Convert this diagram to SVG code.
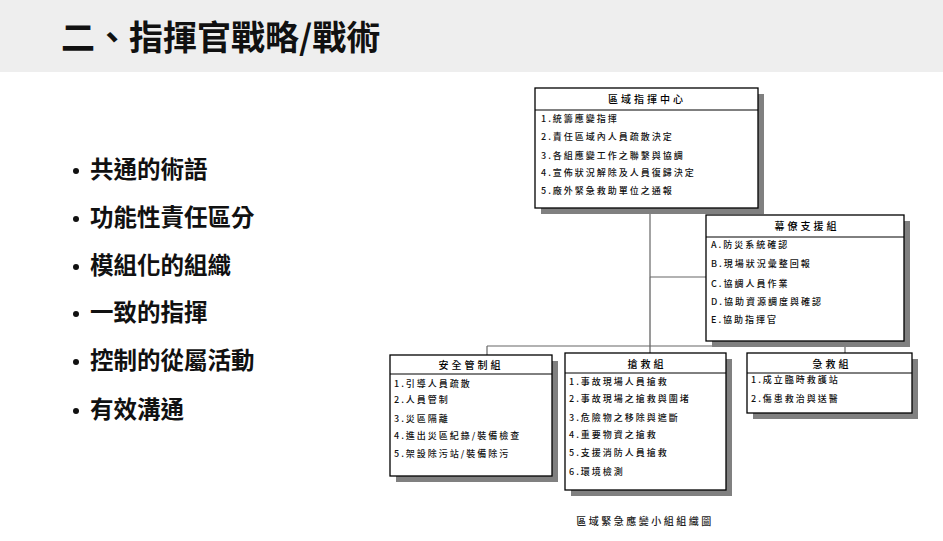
<svg xmlns="http://www.w3.org/2000/svg" width="943" height="541" viewBox="0 0 943 541">
<style>
.cjk{font-family:"Noto Sans CJK TC","Noto Sans CJK SC",sans-serif}
.title{font-size:34px;font-weight:700;fill:#111}
.bul{font-size:23.5px;font-weight:700;fill:#111}
.hd{font-size:10px;letter-spacing:3px;fill:#000;text-anchor:middle;font-weight:500}
.it{font-size:9px;letter-spacing:2px;fill:#111;font-weight:500}
.box{fill:#fff;stroke:#000;stroke-width:1.3}
.sh{fill:#808080}
.div{stroke:#000;stroke-width:1}
.cn{stroke:#666;stroke-width:1.2;fill:none}
.cap{font-size:10px;letter-spacing:2.5px;fill:#222;text-anchor:middle;font-weight:500}
</style>
<rect x="0" y="0" width="943" height="72" fill="#eeeeee"/>
<text class="cjk title" x="61" y="50">二、指揮官戰略/戰術</text>
<g id="bullets" class="cjk bul">
<circle cx="76" cy="171" r="3" fill="#111"/><text x="90" y="178">共通的術語</text>
<circle cx="76" cy="219" r="3" fill="#111"/><text x="90" y="226">功能性責任區分</text>
<circle cx="76" cy="267" r="3" fill="#111"/><text x="90" y="274">模組化的組織</text>
<circle cx="76" cy="314" r="3" fill="#111"/><text x="90" y="321">一致的指揮</text>
<circle cx="76" cy="362" r="3" fill="#111"/><text x="90" y="369">控制的從屬活動</text>
<circle cx="76" cy="411" r="3" fill="#111"/><text x="90" y="418">有效溝通</text>
</g>
<g id="connectors">
<line class="cn" x1="650" y1="208" x2="650" y2="277" stroke="#555"/>
<line x1="650" y1="277" x2="650" y2="353" stroke="#9a9a9a" stroke-width="2"/>
<line class="cn" x1="650" y1="277" x2="706" y2="277"/>
<line class="cn" x1="487" y1="346" x2="845" y2="346"/>
<line class="cn" x1="487" y1="346" x2="487" y2="355"/>
<line class="cn" x1="845" y1="346" x2="845" y2="353"/>
</g>
<g id="command" class="cjk">
<rect class="sh" x="541" y="94" width="223" height="120"/>
<rect class="box" x="535" y="88" width="223" height="120"/>
<line class="div" x1="535" y1="110" x2="758" y2="110"/>
<text class="hd" x="647" y="103">區域指揮中心</text>
<text class="it" x="541" y="122">1.統籌應變指揮</text>
<text class="it" x="541" y="140">2.責任區域內人員疏散決定</text>
<text class="it" x="541" y="159">3.各組應變工作之聯繫與協調</text>
<text class="it" x="541" y="176">4.宣佈狀況解除及人員復歸決定</text>
<text class="it" x="541" y="194">5.廠外緊急救助單位之通報</text>
</g>
<g id="staff" class="cjk">
<rect class="sh" x="712" y="221" width="198" height="126"/>
<rect class="box" x="706" y="215" width="198" height="126"/>
<line class="div" x1="706" y1="237" x2="904" y2="237"/>
<text class="hd" x="807" y="230">幕僚支援組</text>
<text class="it" x="711" y="248">A.防災系統確認</text>
<text class="it" x="711" y="267">B.現場狀況彙整回報</text>
<text class="it" x="711" y="287">C.協調人員作業</text>
<text class="it" x="711" y="305">D.協助資源調度與確認</text>
<text class="it" x="711" y="323">E.協助指揮官</text>
</g>
<g id="safety" class="cjk">
<rect class="sh" x="396" y="361" width="162" height="121"/>
<rect class="box" x="390" y="355" width="162" height="121"/>
<line class="div" x1="390" y1="374" x2="552" y2="374"/>
<text class="hd" x="471" y="369">安全管制組</text>
<text class="it" x="394" y="387">1.引導人員疏散</text>
<text class="it" x="394" y="403">2.人員管制</text>
<text class="it" x="394" y="422">3.災區隔離</text>
<text class="it" x="394" y="439">4.進出災區紀錄/裝備檢查</text>
<text class="it" x="394" y="457">5.架設除污站/裝備除污</text>
</g>
<g id="rescue" class="cjk">
<rect class="sh" x="571" y="359" width="161" height="137"/>
<rect class="box" x="565" y="353" width="161" height="137"/>
<line class="div" x1="565" y1="373" x2="726" y2="373"/>
<text class="hd" x="647" y="368">搶救組</text>
<text class="it" x="569" y="385">1.事故現場人員搶救</text>
<text class="it" x="569" y="402">2.事故現場之搶救與圍堵</text>
<text class="it" x="569" y="421">3.危險物之移除與遮斷</text>
<text class="it" x="569" y="438">4.重要物資之搶救</text>
<text class="it" x="569" y="456">5.支援消防人員搶救</text>
<text class="it" x="569" y="475">6.環境檢測</text>
</g>
<g id="firstaid" class="cjk">
<rect class="sh" x="753" y="359" width="165" height="60"/>
<rect class="box" x="747" y="353" width="165" height="60"/>
<line class="div" x1="747" y1="373" x2="912" y2="373"/>
<text class="hd" x="832" y="368">急救組</text>
<text class="it" x="751" y="383">1.成立臨時救護站</text>
<text class="it" x="751" y="402">2.傷患救治與送醫</text>
</g>
<text class="cjk cap" x="645" y="525">區域緊急應變小組組織圖</text>
</svg>
